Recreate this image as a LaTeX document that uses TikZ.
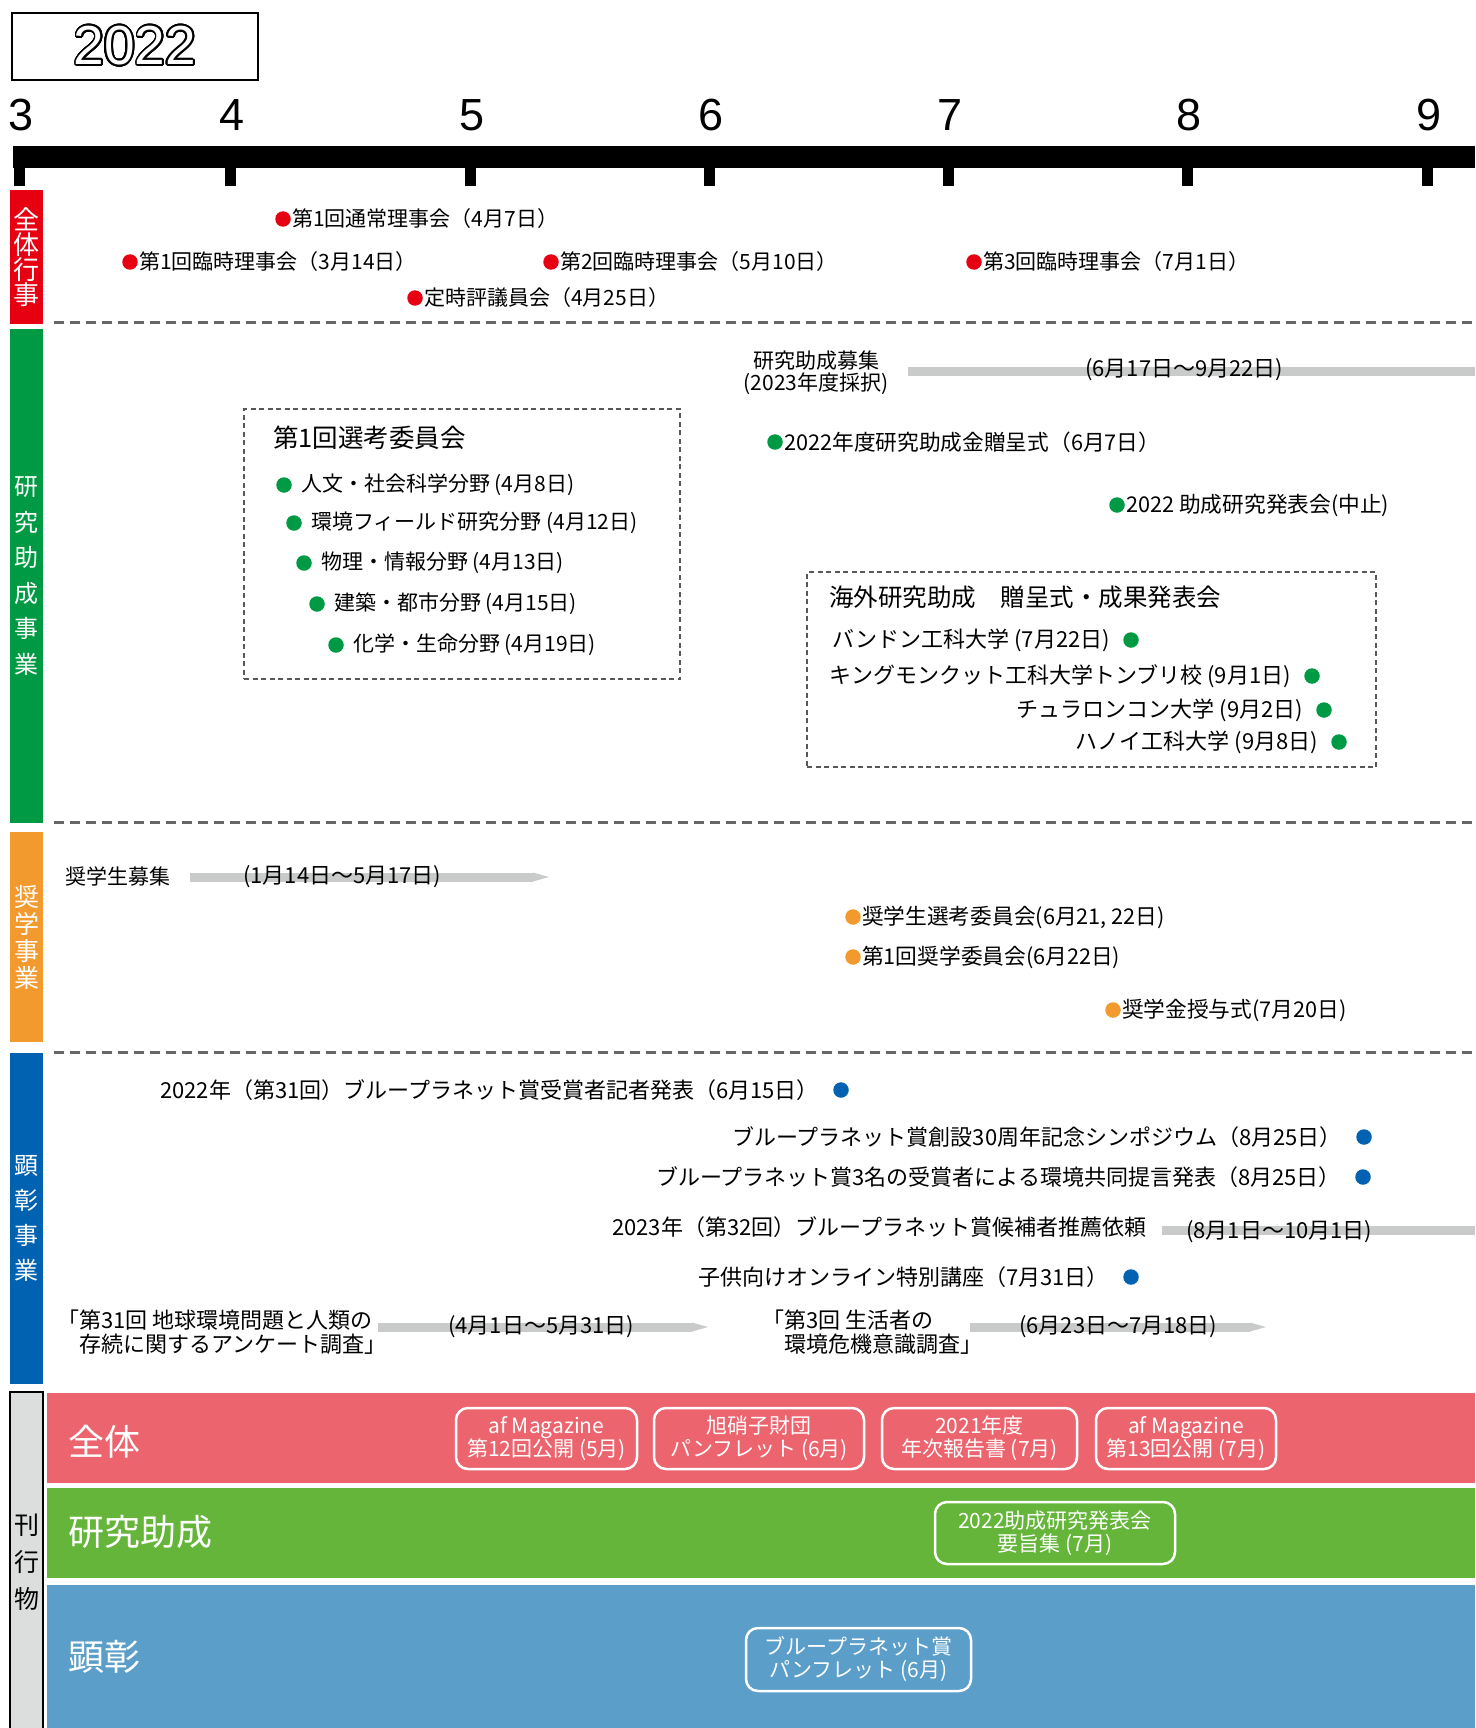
\documentclass[tikz,border=0pt]{standalone}
\usepackage{fontspec}
\usepackage{contour}
\usetikzlibrary{positioning}
\usetikzlibrary{arrows.meta}
\setmainfont{Noto Sans CJK JP}
\newfontfamily\numfont{Liberation Sans}
\definecolor{evred}{HTML}{E60012}
\definecolor{evgreen}{HTML}{009944}
\definecolor{evorange}{HTML}{F39A2E}
\definecolor{evblue}{HTML}{0062B1}
\definecolor{sepgray}{HTML}{666666}
\definecolor{grpgray}{HTML}{595757}
\definecolor{spangray}{HTML}{C9CACA}
\definecolor{pubred}{HTML}{EB646E}
\definecolor{pubgreen}{HTML}{64B53A}
\definecolor{pubblue}{HTML}{5A9EC9}
\definecolor{pubgray}{HTML}{DCDDDD}
\contourlength{1.7pt}
\contournumber{32}

\begin{document}
\begin{tikzpicture}
	[x=1pt,y=-1pt,
	 every node/.style={inner sep=0pt},
	 ev/.style={anchor=west,font=\fontsize{21}{24}\selectfont},
	 evm/.style={anchor=west,font=\fontsize{21.7}{24}\selectfont},
	 evl/.style={font=\fontsize{22}{24}\selectfont},
	 evdot/.style={circle,minimum size=15.5pt},
	 rdot/.style={evdot,fill=evred},
	 gdot/.style={evdot,fill=evgreen},
	 odot/.style={evdot,fill=evorange},
	 bdot/.style={evdot,fill=evblue},
	 sidebar/.style={minimum width=33pt,text=white,align=center},
	 sepline/.style={draw=sepgray,line width=3pt,dash pattern=on 10pt off 6pt},
	 grpbox/.style={draw=grpgray,line width=2pt,dash pattern=on 5pt off 3.5pt},
	 spanbar/.style={draw=spangray,line width=9pt},
	 spanarrow/.style={spanbar,-{Triangle[length=16pt,width=9pt,line width=0pt]}},
	 pubbox/.style={draw=white,line width=2.5pt,rounded corners=12pt,text=white,align=center,font=\fontsize{21}{23}\selectfont},
	 bandlabel/.style={anchor=west,text=white,font=\fontsize{36}{36}\selectfont},
	 monthlbl/.style={font=\numfont\fontsize{45}{45}\selectfont},
	 node distance=2pt]
	\useasboundingbox (0,0) rectangle (1475,1728);

	\node (yr) [draw,line width=2.5pt,minimum width=246pt,minimum height=67pt,text=white,font=\numfont\fontsize{55}{55}\selectfont] at (135,46.5) {\contour{black}{2022}};
	\draw [line width=22pt] (13,157) -- (1475,157);
	\foreach \m/\x in {3/19,4/230,5/470,6/709,7/948,8/1187,9/1427}{
		\node (m\m) [monthlbl] at (\x+2,115) {\m};
		\draw [line width=11pt] (\x,165) -- (\x,186);
	}

	\node (s1) [sidebar,fill=evred,minimum height=134pt,font=\fontsize{26}{25}\selectfont] at (26.5,257) {全\\体\\行\\事};
	\node (s2) [sidebar,fill=evgreen,minimum height=494pt,font=\fontsize{24}{35.6}\selectfont] at (26.5,576) {研\\究\\助\\成\\事\\業};
	\node (s3) [sidebar,fill=evorange,minimum height=210pt,font=\fontsize{25}{27}\selectfont] at (26.5,937) {奨\\学\\事\\業};
	\node (s4) [sidebar,fill=evblue,minimum height=331pt,font=\fontsize{24}{35}\selectfont] at (26.5,1218.5) {顕\\彰\\事\\業};
	\node (s5) [sidebar,fill=pubgray,draw=black,line width=1.5pt,text=black,minimum height=340pt,font=\fontsize{25}{37}\selectfont] at (26.5,1562) {刊\\行\\物};

	\draw [sepline] (54,322) -- (1475,322);
	\draw [sepline] (54,822) -- (1475,822);
	\draw [sepline] (54,1052) -- (1475,1052);

	\node (a1) [rdot] at (283,219) {};
	\node (a1t) [ev,right=1pt of a1] {第1回通常理事会（4月7日）};
	\node (a2) [rdot] at (130,262) {};
	\node (a2t) [ev,right=1pt of a2] {第1回臨時理事会（3月14日）};
	\node (a3) [rdot] at (415,298) {};
	\node (a3t) [ev,right=1pt of a3] {定時評議員会（4月25日）};
	\node (a4) [rdot] at (551,262) {};
	\node (a4t) [ev,right=1pt of a4] {第2回臨時理事会（5月10日）};
	\node (a5) [rdot] at (974,262) {};
	\node (a5t) [ev,right=1pt of a5] {第3回臨時理事会（7月1日）};

	\node (b0) [align=center,font=\fontsize{21}{22}\selectfont] at (816,373) {研究助成募集\\(2023年度採択)};
	\coordinate (b0s) at (908,371);
	\coordinate (b0e) at (1475,371);
	\draw [spanbar] (b0s) -- (b0e);
	\node (b0d) [ev,font=\fontsize{22}{24}\selectfont] at (1085,370) {(6月17日〜9月22日)};
	\node (b1) [gdot] at (775,442) {};
	\node (b1t) [evm,right=1pt of b1] {2022年度研究助成金贈呈式（6月7日）};
	\node (b2) [gdot] at (1117,505) {};
	\node (b2t) [evm,right=1pt of b2] {2022 助成研究発表会(中止)};

	\node (sel) [grpbox,minimum width=436pt,minimum height=270pt] at (462,544) {};
	\node (selt) [ev,font=\fontsize{25.5}{28}\selectfont] at (273,438) {第1回選考委員会};
	\node (g1) [gdot] at (284,485) {};
	\node (g1t) [ev,right=9pt of g1] {人文・社会科学分野 (4月8日)};
	\node (g2) [gdot] at (294,523) {};
	\node (g2t) [ev,right=9pt of g2] {環境フィールド研究分野 (4月12日)};
	\node (g3) [gdot] at (304,563) {};
	\node (g3t) [ev,right=9pt of g3] {物理・情報分野 (4月13日)};
	\node (g4) [gdot] at (317,604) {};
	\node (g4t) [ev,right=9pt of g4] {建築・都市分野 (4月15日)};
	\node (g5) [gdot] at (336,645) {};
	\node (g5t) [ev,right=9pt of g5] {化学・生命分野 (4月19日)};

	\node (ovs) [grpbox,minimum width=569pt,minimum height=195pt] at (1091.5,669.5) {};
	\node (ovst) [ev,font=\fontsize{24.5}{28}\selectfont] at (829,597) {海外研究助成　贈呈式・成果発表会};
	\node (h1) [gdot] at (1131,640) {};
	\node (h1t) [evl,left=13pt of h1] {バンドン工科大学 (7月22日)};
	\node (h2) [gdot] at (1312,676) {};
	\node (h2t) [evl,left=13pt of h2] {キングモンクット工科大学トンブリ校 (9月1日)};
	\node (h3) [gdot] at (1324,710) {};
	\node (h3t) [evl,left=13pt of h3] {チュラロンコン大学 (9月2日)};
	\node (h4) [gdot] at (1339,742) {};
	\node (h4t) [evl,left=13pt of h4] {ハノイ工科大学 (9月8日)};

	\node (c0) [ev] at (65,877) {奨学生募集};
	\coordinate (c0s) at (190,877);
	\coordinate (c0e) at (549,877);
	\draw [spanarrow] (c0s) -- (c0e);
	\node (c0d) [ev,font=\fontsize{22}{24}\selectfont] at (243,877) {(1月14日〜5月17日)};
	\node (c1) [odot] at (853,917) {};
	\node (c1t) [evm,right=1pt of c1] {奨学生選考委員会(6月21, 22日)};
	\node (c2) [odot] at (853,957) {};
	\node (c2t) [evm,right=1pt of c2] {第1回奨学委員会(6月22日)};
	\node (c3) [odot] at (1113,1010) {};
	\node (c3t) [evm,right=1pt of c3] {奨学金授与式(7月20日)};

	\node (d1) [bdot] at (841,1090) {};
	\node (d1t) [evl,left=14pt of d1] {2022年（第31回）ブループラネット賞受賞者記者発表（6月15日）};
	\node (d2) [bdot] at (1364,1137) {};
	\node (d2t) [evl,left=14pt of d2] {ブループラネット賞創設30周年記念シンポジウム（8月25日）};
	\node (d3) [bdot] at (1363,1177) {};
	\node (d3t) [evl,left=14pt of d3] {ブループラネット賞3名の受賞者による環境共同提言発表（8月25日）};
	\node (d4t) [evl,anchor=west] at (612,1227) {2023年（第32回）ブループラネット賞候補者推薦依頼};
	\coordinate (d4s) at (1162,1230);
	\coordinate (d4e) at (1475,1230);
	\draw [spanbar] (d4s) -- (d4e);
	\node (d4d) [evl,anchor=west] at (1186,1232) {(8月1日〜10月1日)};
	\node (d5) [bdot] at (1131,1277) {};
	\node (d5t) [evl,left=14pt of d5] {子供向けオンライン特別講座（7月31日）};
	\node (d6t) [evl,align=left,anchor=west] at (57,1332) {「第31回 地球環境問題と人類の\\\hspace*{1em}存続に関するアンケート調査」};
	\coordinate (d6s) at (378,1327);
	\coordinate (d6e) at (708,1327);
	\draw [spanarrow] (d6s) -- (d6e);
	\node (d6d) [evl,anchor=west] at (448,1327) {(4月1日〜5月31日)};
	\node (d7t) [evl,align=left,anchor=west] at (762,1332) {「第3回 生活者の\\\hspace*{1em}環境危機意識調査」};
	\coordinate (d7s) at (970,1327);
	\coordinate (d7e) at (1266,1327);
	\draw [spanarrow] (d7s) -- (d7e);
	\node (d7d) [evl,anchor=west] at (1019,1327) {(6月23日〜7月18日)};

	\fill [pubred] (47,1393) rectangle (1475,1483);
	\fill [pubgreen] (47,1488) rectangle (1475,1578);
	\fill [pubblue] (47,1585) rectangle (1475,1728);
	\node (pa) [bandlabel] at (68,1442) {全体};
	\node (p1) [pubbox,minimum width=181pt,minimum height=61pt] at (546.5,1438.5) {af Magazine\\第12回公開 (5月)};
	\node (p2) [pubbox,minimum width=210pt,minimum height=61pt] at (759,1438.5) {旭硝子財団\\パンフレット (6月)};
	\node (p3) [pubbox,minimum width=195pt,minimum height=61pt] at (979.5,1438.5) {2021年度\\年次報告書 (7月)};
	\node (p4) [pubbox,minimum width=180pt,minimum height=61pt] at (1186,1438.5) {af Magazine\\第13回公開 (7月)};
	\node (pb) [bandlabel] at (68,1532) {研究助成};
	\node (p5) [pubbox,minimum width=240pt,minimum height=62pt] at (1055,1533) {2022助成研究発表会\\要旨集 (7月)};
	\node (pc) [bandlabel] at (68,1657) {顕彰};
	\node (p6) [pubbox,minimum width=225pt,minimum height=63pt] at (858.5,1659.5) {ブループラネット賞\\パンフレット (6月)};
\end{tikzpicture}
\end{document}
